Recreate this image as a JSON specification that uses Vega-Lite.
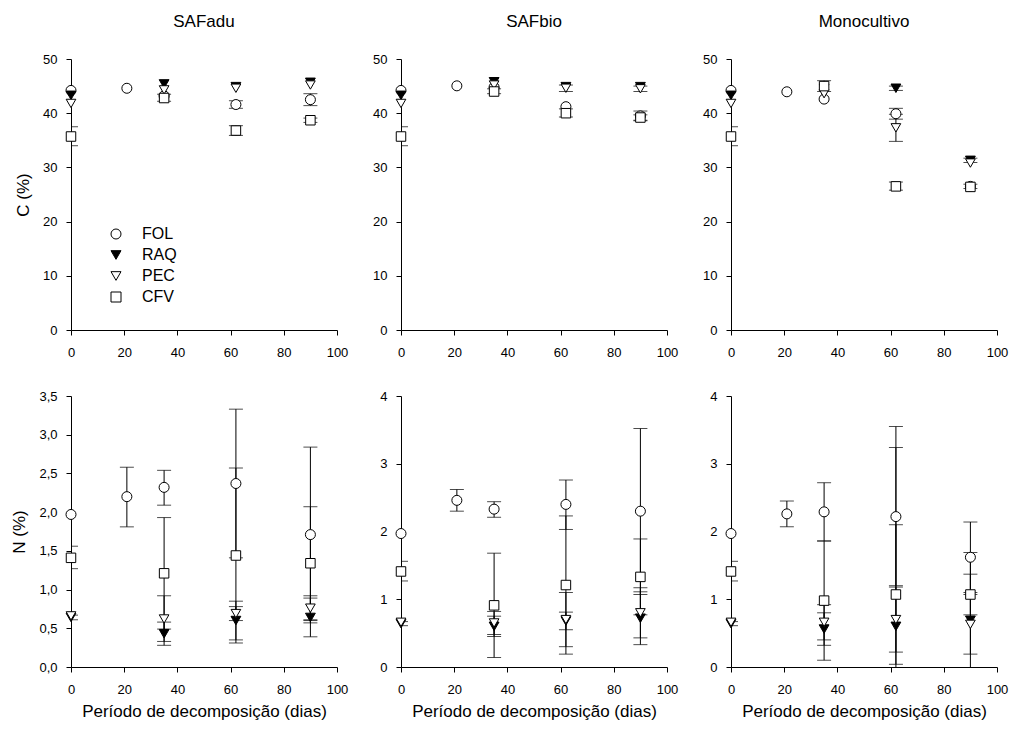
{
  "$schema": "https://vega.github.io/schema/vega-lite/v6.json",
  "background": "white",
  "padding": {"left": 10, "top": 13, "right": 5, "bottom": 5},
  "datasets": {
    "pts": [
      {"t": "SAFadu", "v": "C", "d": 0, "c": "FOL", "m": 44.2, "lo": null, "hi": null},
      {"t": "SAFadu", "v": "C", "d": 0, "c": "RAQ", "m": 43.3, "lo": null, "hi": null},
      {"t": "SAFadu", "v": "C", "d": 0, "c": "PEC", "m": 41.8, "lo": null, "hi": null},
      {"t": "SAFadu", "v": "C", "d": 0, "c": "CFV", "m": 35.7, "lo": 34.0, "hi": 37.5},
      {"t": "SAFadu", "v": "C", "d": 21, "c": "FOL", "m": 44.6, "lo": null, "hi": null},
      {"t": "SAFadu", "v": "C", "d": 35, "c": "FOL", "m": 43.2, "lo": null, "hi": null},
      {"t": "SAFadu", "v": "C", "d": 35, "c": "RAQ", "m": 45.4, "lo": null, "hi": null},
      {"t": "SAFadu", "v": "C", "d": 35, "c": "PEC", "m": 44.3, "lo": null, "hi": null},
      {"t": "SAFadu", "v": "C", "d": 35, "c": "CFV", "m": 42.8, "lo": 42.2, "hi": 43.5},
      {"t": "SAFadu", "v": "C", "d": 62, "c": "FOL", "m": 41.6, "lo": 40.9, "hi": 42.3},
      {"t": "SAFadu", "v": "C", "d": 62, "c": "RAQ", "m": 44.9, "lo": null, "hi": null},
      {"t": "SAFadu", "v": "C", "d": 62, "c": "PEC", "m": 44.6, "lo": null, "hi": null},
      {"t": "SAFadu", "v": "C", "d": 62, "c": "CFV", "m": 36.8, "lo": 35.9, "hi": 37.7},
      {"t": "SAFadu", "v": "C", "d": 90, "c": "FOL", "m": 42.5, "lo": 41.4, "hi": 43.6},
      {"t": "SAFadu", "v": "C", "d": 90, "c": "RAQ", "m": 45.7, "lo": null, "hi": null},
      {"t": "SAFadu", "v": "C", "d": 90, "c": "PEC", "m": 45.2, "lo": null, "hi": null},
      {"t": "SAFadu", "v": "C", "d": 90, "c": "CFV", "m": 38.7, "lo": 38.3, "hi": 39.1},

      {"t": "SAFbio", "v": "C", "d": 0, "c": "FOL", "m": 44.2, "lo": null, "hi": null},
      {"t": "SAFbio", "v": "C", "d": 0, "c": "RAQ", "m": 43.3, "lo": null, "hi": null},
      {"t": "SAFbio", "v": "C", "d": 0, "c": "PEC", "m": 41.8, "lo": null, "hi": null},
      {"t": "SAFbio", "v": "C", "d": 0, "c": "CFV", "m": 35.7, "lo": 34.0, "hi": 37.5},
      {"t": "SAFbio", "v": "C", "d": 21, "c": "FOL", "m": 45.05, "lo": null, "hi": null},
      {"t": "SAFbio", "v": "C", "d": 35, "c": "FOL", "m": 44.8, "lo": null, "hi": null},
      {"t": "SAFbio", "v": "C", "d": 35, "c": "RAQ", "m": 45.8, "lo": null, "hi": null},
      {"t": "SAFbio", "v": "C", "d": 35, "c": "PEC", "m": 45.2, "lo": null, "hi": null},
      {"t": "SAFbio", "v": "C", "d": 35, "c": "CFV", "m": 44.0, "lo": 43.6, "hi": 44.5},
      {"t": "SAFbio", "v": "C", "d": 62, "c": "FOL", "m": 41.2, "lo": null, "hi": null},
      {"t": "SAFbio", "v": "C", "d": 62, "c": "RAQ", "m": 44.9, "lo": null, "hi": null},
      {"t": "SAFbio", "v": "C", "d": 62, "c": "PEC", "m": 44.6, "lo": 44.0, "hi": 45.2},
      {"t": "SAFbio", "v": "C", "d": 62, "c": "CFV", "m": 40.0, "lo": 39.3, "hi": 40.8},
      {"t": "SAFbio", "v": "C", "d": 90, "c": "FOL", "m": 39.5, "lo": 38.6, "hi": 40.4},
      {"t": "SAFbio", "v": "C", "d": 90, "c": "RAQ", "m": 44.9, "lo": null, "hi": null},
      {"t": "SAFbio", "v": "C", "d": 90, "c": "PEC", "m": 44.5, "lo": 44.0, "hi": 45.0},
      {"t": "SAFbio", "v": "C", "d": 90, "c": "CFV", "m": 39.2, "lo": 38.7, "hi": 39.7},

      {"t": "Monocultivo", "v": "C", "d": 0, "c": "FOL", "m": 44.2, "lo": null, "hi": null},
      {"t": "Monocultivo", "v": "C", "d": 0, "c": "RAQ", "m": 43.3, "lo": null, "hi": null},
      {"t": "Monocultivo", "v": "C", "d": 0, "c": "PEC", "m": 41.8, "lo": null, "hi": null},
      {"t": "Monocultivo", "v": "C", "d": 0, "c": "CFV", "m": 35.7, "lo": 34.0, "hi": 37.5},
      {"t": "Monocultivo", "v": "C", "d": 21, "c": "FOL", "m": 43.95, "lo": null, "hi": null},
      {"t": "Monocultivo", "v": "C", "d": 35, "c": "FOL", "m": 42.6, "lo": null, "hi": null},
      {"t": "Monocultivo", "v": "C", "d": 35, "c": "RAQ", "m": 44.6, "lo": null, "hi": null},
      {"t": "Monocultivo", "v": "C", "d": 35, "c": "PEC", "m": 43.6, "lo": null, "hi": null},
      {"t": "Monocultivo", "v": "C", "d": 35, "c": "CFV", "m": 45.0, "lo": 44.0, "hi": 46.0},
      {"t": "Monocultivo", "v": "C", "d": 62, "c": "FOL", "m": 39.9, "lo": 38.9, "hi": 40.9},
      {"t": "Monocultivo", "v": "C", "d": 62, "c": "RAQ", "m": 44.6, "lo": 44.2, "hi": 45.0},
      {"t": "Monocultivo", "v": "C", "d": 62, "c": "PEC", "m": 37.3, "lo": 34.8, "hi": 39.8},
      {"t": "Monocultivo", "v": "C", "d": 62, "c": "CFV", "m": 26.5, "lo": 25.8, "hi": 27.3},
      {"t": "Monocultivo", "v": "C", "d": 90, "c": "FOL", "m": 26.5, "lo": 26.1, "hi": 26.9},
      {"t": "Monocultivo", "v": "C", "d": 90, "c": "RAQ", "m": 31.3, "lo": 30.9, "hi": 31.7},
      {"t": "Monocultivo", "v": "C", "d": 90, "c": "PEC", "m": 30.8, "lo": null, "hi": null},
      {"t": "Monocultivo", "v": "C", "d": 90, "c": "CFV", "m": 26.4, "lo": null, "hi": null},

      {"t": "SAFadu", "v": "N", "d": 0, "c": "FOL", "m": 1.97, "lo": null, "hi": null},
      {"t": "SAFadu", "v": "N", "d": 0, "c": "RAQ", "m": 0.64, "lo": 0.61, "hi": 0.67},
      {"t": "SAFadu", "v": "N", "d": 0, "c": "PEC", "m": 0.66, "lo": null, "hi": null},
      {"t": "SAFadu", "v": "N", "d": 0, "c": "CFV", "m": 1.41, "lo": 1.27, "hi": 1.56},
      {"t": "SAFadu", "v": "N", "d": 21, "c": "FOL", "m": 2.20, "lo": 1.81, "hi": 2.58},
      {"t": "SAFadu", "v": "N", "d": 35, "c": "FOL", "m": 2.32, "lo": 2.09, "hi": 2.54},
      {"t": "SAFadu", "v": "N", "d": 35, "c": "RAQ", "m": 0.43, "lo": 0.28, "hi": 0.58},
      {"t": "SAFadu", "v": "N", "d": 35, "c": "PEC", "m": 0.62, "lo": 0.33, "hi": 0.92},
      {"t": "SAFadu", "v": "N", "d": 35, "c": "CFV", "m": 1.21, "lo": 0.49, "hi": 1.93},
      {"t": "SAFadu", "v": "N", "d": 62, "c": "FOL", "m": 2.37, "lo": 1.41, "hi": 3.33},
      {"t": "SAFadu", "v": "N", "d": 62, "c": "RAQ", "m": 0.60, "lo": 0.35, "hi": 0.85},
      {"t": "SAFadu", "v": "N", "d": 62, "c": "PEC", "m": 0.69, "lo": 0.60, "hi": 0.78},
      {"t": "SAFadu", "v": "N", "d": 62, "c": "CFV", "m": 1.44, "lo": 0.31, "hi": 2.57},
      {"t": "SAFadu", "v": "N", "d": 90, "c": "FOL", "m": 1.71, "lo": 0.57, "hi": 2.84},
      {"t": "SAFadu", "v": "N", "d": 90, "c": "RAQ", "m": 0.64, "lo": 0.39, "hi": 0.89},
      {"t": "SAFadu", "v": "N", "d": 90, "c": "PEC", "m": 0.76, "lo": 0.60, "hi": 0.92},
      {"t": "SAFadu", "v": "N", "d": 90, "c": "CFV", "m": 1.34, "lo": 0.61, "hi": 2.07},

      {"t": "SAFbio", "v": "N", "d": 0, "c": "FOL", "m": 1.97, "lo": null, "hi": null},
      {"t": "SAFbio", "v": "N", "d": 0, "c": "RAQ", "m": 0.64, "lo": 0.61, "hi": 0.67},
      {"t": "SAFbio", "v": "N", "d": 0, "c": "PEC", "m": 0.66, "lo": null, "hi": null},
      {"t": "SAFbio", "v": "N", "d": 0, "c": "CFV", "m": 1.41, "lo": 1.27, "hi": 1.56},
      {"t": "SAFbio", "v": "N", "d": 21, "c": "FOL", "m": 2.46, "lo": 2.30, "hi": 2.62},
      {"t": "SAFbio", "v": "N", "d": 35, "c": "FOL", "m": 2.33, "lo": 2.21, "hi": 2.44},
      {"t": "SAFbio", "v": "N", "d": 35, "c": "RAQ", "m": 0.60, "lo": 0.45, "hi": 0.75},
      {"t": "SAFbio", "v": "N", "d": 35, "c": "PEC", "m": 0.65, "lo": 0.48, "hi": 0.82},
      {"t": "SAFbio", "v": "N", "d": 35, "c": "CFV", "m": 0.91, "lo": 0.14, "hi": 1.68},
      {"t": "SAFbio", "v": "N", "d": 62, "c": "FOL", "m": 2.40, "lo": 2.03, "hi": 2.76},
      {"t": "SAFbio", "v": "N", "d": 62, "c": "RAQ", "m": 0.68, "lo": 0.55, "hi": 0.81},
      {"t": "SAFbio", "v": "N", "d": 62, "c": "PEC", "m": 0.70, "lo": 0.30, "hi": 1.10},
      {"t": "SAFbio", "v": "N", "d": 62, "c": "CFV", "m": 1.21, "lo": 0.19, "hi": 2.23},
      {"t": "SAFbio", "v": "N", "d": 90, "c": "FOL", "m": 2.30, "lo": 1.07, "hi": 3.52},
      {"t": "SAFbio", "v": "N", "d": 90, "c": "RAQ", "m": 0.72, "lo": 0.33, "hi": 1.11},
      {"t": "SAFbio", "v": "N", "d": 90, "c": "PEC", "m": 0.80, "lo": 0.43, "hi": 1.17},
      {"t": "SAFbio", "v": "N", "d": 90, "c": "CFV", "m": 1.33, "lo": 0.77, "hi": 1.89},

      {"t": "Monocultivo", "v": "N", "d": 0, "c": "FOL", "m": 1.97, "lo": null, "hi": null},
      {"t": "Monocultivo", "v": "N", "d": 0, "c": "RAQ", "m": 0.64, "lo": 0.61, "hi": 0.67},
      {"t": "Monocultivo", "v": "N", "d": 0, "c": "PEC", "m": 0.66, "lo": null, "hi": null},
      {"t": "Monocultivo", "v": "N", "d": 0, "c": "CFV", "m": 1.41, "lo": 1.27, "hi": 1.56},
      {"t": "Monocultivo", "v": "N", "d": 21, "c": "FOL", "m": 2.26, "lo": 2.07, "hi": 2.45},
      {"t": "Monocultivo", "v": "N", "d": 35, "c": "FOL", "m": 2.29, "lo": 1.86, "hi": 2.72},
      {"t": "Monocultivo", "v": "N", "d": 35, "c": "RAQ", "m": 0.56, "lo": 0.32, "hi": 0.80},
      {"t": "Monocultivo", "v": "N", "d": 35, "c": "PEC", "m": 0.66, "lo": 0.40, "hi": 0.92},
      {"t": "Monocultivo", "v": "N", "d": 35, "c": "CFV", "m": 0.98, "lo": 0.10, "hi": 1.86},
      {"t": "Monocultivo", "v": "N", "d": 62, "c": "FOL", "m": 2.22, "lo": 1.20, "hi": 3.24},
      {"t": "Monocultivo", "v": "N", "d": 62, "c": "RAQ", "m": 0.60, "lo": -2.35, "hi": 3.55},
      {"t": "Monocultivo", "v": "N", "d": 62, "c": "PEC", "m": 0.70, "lo": 0.22, "hi": 1.18},
      {"t": "Monocultivo", "v": "N", "d": 62, "c": "CFV", "m": 1.07, "lo": 0.04, "hi": 2.10},
      {"t": "Monocultivo", "v": "N", "d": 90, "c": "FOL", "m": 1.62, "lo": 1.10, "hi": 2.14},
      {"t": "Monocultivo", "v": "N", "d": 90, "c": "RAQ", "m": 0.69, "lo": -0.31, "hi": 1.69},
      {"t": "Monocultivo", "v": "N", "d": 90, "c": "PEC", "m": 0.63, "lo": 0.19, "hi": 1.07},
      {"t": "Monocultivo", "v": "N", "d": 90, "c": "CFV", "m": 1.07, "lo": 0.77, "hi": 1.37}
    ]
  },
  "data": {"name": "pts"},
  "bounds": "flush",
  "columns": 3,
  "spacing": {"row": 66, "column": 64},
  "resolve": {"legend": {"shape": "independent", "fill": "independent"}},
  "concat": [
    {
      "width": 266, "height": 271,
      "title": {"text": "SAFadu"},
      "transform": [{"filter": "datum.t == 'SAFadu' && datum.v == 'C'"}],
      "encoding": {"x": {"field": "d", "type": "quantitative", "scale": {"domain": [0, 100], "nice": false}, "axis": {"values": [0, 20, 40, 60, 80, 100], "title": null}}},
      "layer": [
        {"mark": {"type": "rule", "clip": true, "color": "black", "strokeWidth": 1},
         "encoding": {"y": {"field": "lo", "type": "quantitative", "scale": {"domain": [0, 50], "nice": false}, "axis": {"values": [0, 10, 20, 30, 40, 50], "title": "C (%)"}}, "y2": {"field": "hi"}}},
        {"mark": {"type": "tick", "orient": "horizontal", "clip": true, "color": "black", "size": 14, "thickness": 1},
         "encoding": {"y": {"field": "lo", "type": "quantitative", "axis": {"values": [0, 10, 20, 30, 40, 50], "title": "C (%)"}}}},
        {"mark": {"type": "tick", "orient": "horizontal", "clip": true, "color": "black", "size": 14, "thickness": 1},
         "encoding": {"y": {"field": "hi", "type": "quantitative", "axis": {"values": [0, 10, 20, 30, 40, 50], "title": "C (%)"}}}},
        {"mark": {"type": "point", "opacity": 1, "stroke": "black", "strokeWidth": 1},
         "encoding": {"y": {"field": "m", "type": "quantitative", "axis": {"values": [0, 10, 20, 30, 40, 50], "title": "C (%)"}},
                      "shape": {"field": "c", "type": "nominal", "scale": {"domain": ["FOL", "RAQ", "PEC", "CFV"], "range": ["circle", "triangle-down", "triangle-down", "square"]},
                                "legend": {"title": null, "orient": "none", "legendX": 37, "legendY": 167, "symbolStrokeColor": "black", "symbolStrokeWidth": 1, "encode": {"symbols": {"update": {"stroke": {"value": "black"}, "strokeWidth": {"value": 1}}}}}},
                      "fill": {"field": "c", "type": "nominal", "scale": {"domain": ["FOL", "RAQ", "PEC", "CFV"], "range": ["white", "black", "white", "white"]},
                                "legend": {"title": null, "orient": "none", "legendX": 37, "legendY": 167, "symbolStrokeColor": "black", "symbolStrokeWidth": 1, "encode": {"symbols": {"update": {"stroke": {"value": "black"}, "strokeWidth": {"value": 1}}}}}},
                      "size": {"field": "c", "type": "nominal", "scale": {"domain": ["FOL", "RAQ", "PEC", "CFV"], "range": [100, 90, 90, 70]}, "legend": null}}}
      ]
    },
    {
      "width": 266, "height": 271,
      "title": {"text": "SAFbio"},
      "transform": [{"filter": "datum.t == 'SAFbio' && datum.v == 'C'"}],
      "encoding": {"x": {"field": "d", "type": "quantitative", "scale": {"domain": [0, 100], "nice": false}, "axis": {"values": [0, 20, 40, 60, 80, 100], "title": null}}},
      "layer": [
        {"mark": {"type": "rule", "clip": true, "color": "black", "strokeWidth": 1},
         "encoding": {"y": {"field": "lo", "type": "quantitative", "scale": {"domain": [0, 50], "nice": false}, "axis": {"values": [0, 10, 20, 30, 40, 50], "title": null}}, "y2": {"field": "hi"}}},
        {"mark": {"type": "tick", "orient": "horizontal", "clip": true, "color": "black", "size": 14, "thickness": 1},
         "encoding": {"y": {"field": "lo", "type": "quantitative", "axis": {"values": [0, 10, 20, 30, 40, 50], "title": null}}}},
        {"mark": {"type": "tick", "orient": "horizontal", "clip": true, "color": "black", "size": 14, "thickness": 1},
         "encoding": {"y": {"field": "hi", "type": "quantitative", "axis": {"values": [0, 10, 20, 30, 40, 50], "title": null}}}},
        {"mark": {"type": "point", "opacity": 1, "stroke": "black", "strokeWidth": 1},
         "encoding": {"y": {"field": "m", "type": "quantitative", "axis": {"values": [0, 10, 20, 30, 40, 50], "title": null}},
                      "shape": {"field": "c", "type": "nominal", "scale": {"domain": ["FOL", "RAQ", "PEC", "CFV"], "range": ["circle", "triangle-down", "triangle-down", "square"]}, "legend": null},
                      "fill": {"field": "c", "type": "nominal", "scale": {"domain": ["FOL", "RAQ", "PEC", "CFV"], "range": ["white", "black", "white", "white"]}, "legend": null},
                      "size": {"field": "c", "type": "nominal", "scale": {"domain": ["FOL", "RAQ", "PEC", "CFV"], "range": [100, 90, 90, 70]}, "legend": null}}}
      ]
    },
    {
      "width": 266, "height": 271,
      "title": {"text": "Monocultivo"},
      "transform": [{"filter": "datum.t == 'Monocultivo' && datum.v == 'C'"}],
      "encoding": {"x": {"field": "d", "type": "quantitative", "scale": {"domain": [0, 100], "nice": false}, "axis": {"values": [0, 20, 40, 60, 80, 100], "title": null}}},
      "layer": [
        {"mark": {"type": "rule", "clip": true, "color": "black", "strokeWidth": 1},
         "encoding": {"y": {"field": "lo", "type": "quantitative", "scale": {"domain": [0, 50], "nice": false}, "axis": {"values": [0, 10, 20, 30, 40, 50], "title": null}}, "y2": {"field": "hi"}}},
        {"mark": {"type": "tick", "orient": "horizontal", "clip": true, "color": "black", "size": 14, "thickness": 1},
         "encoding": {"y": {"field": "lo", "type": "quantitative", "axis": {"values": [0, 10, 20, 30, 40, 50], "title": null}}}},
        {"mark": {"type": "tick", "orient": "horizontal", "clip": true, "color": "black", "size": 14, "thickness": 1},
         "encoding": {"y": {"field": "hi", "type": "quantitative", "axis": {"values": [0, 10, 20, 30, 40, 50], "title": null}}}},
        {"mark": {"type": "point", "opacity": 1, "stroke": "black", "strokeWidth": 1},
         "encoding": {"y": {"field": "m", "type": "quantitative", "axis": {"values": [0, 10, 20, 30, 40, 50], "title": null}},
                      "shape": {"field": "c", "type": "nominal", "scale": {"domain": ["FOL", "RAQ", "PEC", "CFV"], "range": ["circle", "triangle-down", "triangle-down", "square"]}, "legend": null},
                      "fill": {"field": "c", "type": "nominal", "scale": {"domain": ["FOL", "RAQ", "PEC", "CFV"], "range": ["white", "black", "white", "white"]}, "legend": null},
                      "size": {"field": "c", "type": "nominal", "scale": {"domain": ["FOL", "RAQ", "PEC", "CFV"], "range": [100, 90, 90, 70]}, "legend": null}}}
      ]
    },
    {
      "width": 266, "height": 271,
      "transform": [{"filter": "datum.t == 'SAFadu' && datum.v == 'N'"}],
      "encoding": {"x": {"field": "d", "type": "quantitative", "scale": {"domain": [0, 100], "nice": false}, "axis": {"values": [0, 20, 40, 60, 80, 100], "title": "Período de decomposição (dias)"}}},
      "layer": [
        {"mark": {"type": "rule", "clip": true, "color": "black", "strokeWidth": 1},
         "encoding": {"y": {"field": "lo", "type": "quantitative", "scale": {"domain": [0, 3.5], "nice": false}, "axis": {"values": [0, 0.5, 1, 1.5, 2, 2.5, 3, 3.5], "labelExpr": "replace(format(datum.value, '.1f'), '.', ',')", "title": "N (%)"}}, "y2": {"field": "hi"}}},
        {"mark": {"type": "tick", "orient": "horizontal", "clip": true, "color": "black", "size": 14, "thickness": 1},
         "encoding": {"y": {"field": "lo", "type": "quantitative", "axis": {"values": [0, 0.5, 1, 1.5, 2, 2.5, 3, 3.5], "labelExpr": "replace(format(datum.value, '.1f'), '.', ',')", "title": "N (%)"}}}},
        {"mark": {"type": "tick", "orient": "horizontal", "clip": true, "color": "black", "size": 14, "thickness": 1},
         "encoding": {"y": {"field": "hi", "type": "quantitative", "axis": {"values": [0, 0.5, 1, 1.5, 2, 2.5, 3, 3.5], "labelExpr": "replace(format(datum.value, '.1f'), '.', ',')", "title": "N (%)"}}}},
        {"mark": {"type": "point", "opacity": 1, "stroke": "black", "strokeWidth": 1},
         "encoding": {"y": {"field": "m", "type": "quantitative", "axis": {"values": [0, 0.5, 1, 1.5, 2, 2.5, 3, 3.5], "labelExpr": "replace(format(datum.value, '.1f'), '.', ',')", "title": "N (%)"}},
                      "shape": {"field": "c", "type": "nominal", "scale": {"domain": ["FOL", "RAQ", "PEC", "CFV"], "range": ["circle", "triangle-down", "triangle-down", "square"]}, "legend": null},
                      "fill": {"field": "c", "type": "nominal", "scale": {"domain": ["FOL", "RAQ", "PEC", "CFV"], "range": ["white", "black", "white", "white"]}, "legend": null},
                      "size": {"field": "c", "type": "nominal", "scale": {"domain": ["FOL", "RAQ", "PEC", "CFV"], "range": [100, 90, 90, 70]}, "legend": null}}}
      ]
    },
    {
      "width": 266, "height": 271,
      "transform": [{"filter": "datum.t == 'SAFbio' && datum.v == 'N'"}],
      "encoding": {"x": {"field": "d", "type": "quantitative", "scale": {"domain": [0, 100], "nice": false}, "axis": {"values": [0, 20, 40, 60, 80, 100], "title": "Período de decomposição (dias)"}}},
      "layer": [
        {"mark": {"type": "rule", "clip": true, "color": "black", "strokeWidth": 1},
         "encoding": {"y": {"field": "lo", "type": "quantitative", "scale": {"domain": [0, 4], "nice": false}, "axis": {"values": [0, 1, 2, 3, 4], "format": "d", "title": null}}, "y2": {"field": "hi"}}},
        {"mark": {"type": "tick", "orient": "horizontal", "clip": true, "color": "black", "size": 14, "thickness": 1},
         "encoding": {"y": {"field": "lo", "type": "quantitative", "axis": {"values": [0, 1, 2, 3, 4], "format": "d", "title": null}}}},
        {"mark": {"type": "tick", "orient": "horizontal", "clip": true, "color": "black", "size": 14, "thickness": 1},
         "encoding": {"y": {"field": "hi", "type": "quantitative", "axis": {"values": [0, 1, 2, 3, 4], "format": "d", "title": null}}}},
        {"mark": {"type": "point", "opacity": 1, "stroke": "black", "strokeWidth": 1},
         "encoding": {"y": {"field": "m", "type": "quantitative", "axis": {"values": [0, 1, 2, 3, 4], "format": "d", "title": null}},
                      "shape": {"field": "c", "type": "nominal", "scale": {"domain": ["FOL", "RAQ", "PEC", "CFV"], "range": ["circle", "triangle-down", "triangle-down", "square"]}, "legend": null},
                      "fill": {"field": "c", "type": "nominal", "scale": {"domain": ["FOL", "RAQ", "PEC", "CFV"], "range": ["white", "black", "white", "white"]}, "legend": null},
                      "size": {"field": "c", "type": "nominal", "scale": {"domain": ["FOL", "RAQ", "PEC", "CFV"], "range": [100, 90, 90, 70]}, "legend": null}}}
      ]
    },
    {
      "width": 266, "height": 271,
      "transform": [{"filter": "datum.t == 'Monocultivo' && datum.v == 'N'"}],
      "encoding": {"x": {"field": "d", "type": "quantitative", "scale": {"domain": [0, 100], "nice": false}, "axis": {"values": [0, 20, 40, 60, 80, 100], "title": "Período de decomposição (dias)"}}},
      "layer": [
        {"mark": {"type": "rule", "clip": true, "color": "black", "strokeWidth": 1},
         "encoding": {"y": {"field": "lo", "type": "quantitative", "scale": {"domain": [0, 4], "nice": false}, "axis": {"values": [0, 1, 2, 3, 4], "format": "d", "title": null}}, "y2": {"field": "hi"}}},
        {"mark": {"type": "tick", "orient": "horizontal", "clip": true, "color": "black", "size": 14, "thickness": 1},
         "encoding": {"y": {"field": "lo", "type": "quantitative", "axis": {"values": [0, 1, 2, 3, 4], "format": "d", "title": null}}}},
        {"mark": {"type": "tick", "orient": "horizontal", "clip": true, "color": "black", "size": 14, "thickness": 1},
         "encoding": {"y": {"field": "hi", "type": "quantitative", "axis": {"values": [0, 1, 2, 3, 4], "format": "d", "title": null}}}},
        {"mark": {"type": "point", "opacity": 1, "stroke": "black", "strokeWidth": 1},
         "encoding": {"y": {"field": "m", "type": "quantitative", "axis": {"values": [0, 1, 2, 3, 4], "format": "d", "title": null}},
                      "shape": {"field": "c", "type": "nominal", "scale": {"domain": ["FOL", "RAQ", "PEC", "CFV"], "range": ["circle", "triangle-down", "triangle-down", "square"]}, "legend": null},
                      "fill": {"field": "c", "type": "nominal", "scale": {"domain": ["FOL", "RAQ", "PEC", "CFV"], "range": ["white", "black", "white", "white"]}, "legend": null},
                      "size": {"field": "c", "type": "nominal", "scale": {"domain": ["FOL", "RAQ", "PEC", "CFV"], "range": [100, 90, 90, 70]}, "legend": null}}}
      ]
    }
  ],
  "config": {
    "font": "Liberation Sans",
    "view": {"stroke": null},
    "axis": {"grid": false, "domainColor": "black", "tickColor": "black", "labelColor": "black", "titleColor": "black",
             "labelFont": "Liberation Sans", "labelFontSize": 13, "titleFont": "Liberation Sans", "titleFontSize": 17, "titleFontWeight": "normal",
             "tickSize": 5, "labelFlush": false, "labelOverlap": false},
    "axisX": {"labelPadding": 11, "titlePadding": 7},
    "axisY": {"labelPadding": 9, "titlePadding": 10},
    "title": {"font": "Liberation Sans", "fontSize": 17, "fontWeight": "normal", "color": "black", "anchor": "middle", "offset": 22},
    "legend": {"labelFont": "Liberation Sans", "labelFontSize": 16, "labelColor": "black",
               "symbolStrokeColor": "black", "symbolStrokeWidth": 1, "symbolSize": 100, "rowPadding": 5, "labelOffset": 18, "symbolOpacity": 1}
  }
}
